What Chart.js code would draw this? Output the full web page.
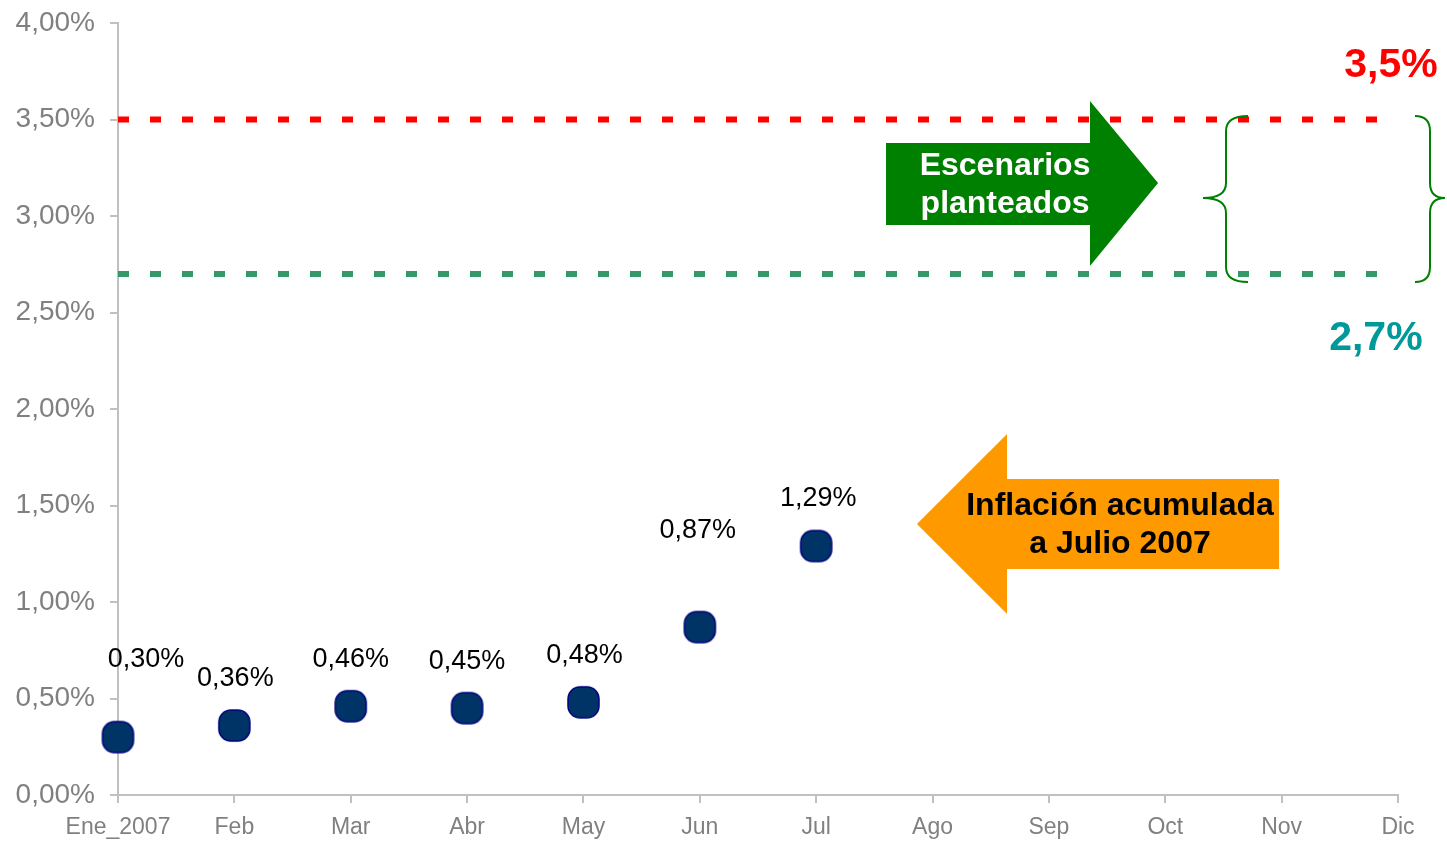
<!DOCTYPE html>
<html lang="es">
<head>
<meta charset="utf-8">
<title>Inflación acumulada 2007</title>
<script src="https://cdn.jsdelivr.net/npm/chart.js@4.4.1/dist/chart.umd.min.js"></script>
<style>
  html, body { margin: 0; padding: 0; background: #fff; }
  #wrap { width: 1447px; height: 841px; position: relative; }
</style>
</head>
<body>
<div id="wrap"><canvas id="chart"></canvas></div>
<script>
// ── Data ──────────────────────────────────────────────────────────────
const meses = ['Ene_2007', 'Feb', 'Mar', 'Abr', 'May', 'Jun', 'Jul', 'Ago', 'Sep', 'Oct', 'Nov', 'Dic'];
const inflacionAcumulada = [0.30, 0.36, 0.46, 0.45, 0.48, 0.87, 1.29];
const escenarioAlto = [3.5, 3.5, 3.5, 3.5, 3.5, 3.5, 3.5, 3.5, 3.5, 3.5, 3.5, 3.5];
const escenarioBajo = [2.7, 2.7, 2.7, 2.7, 2.7, 2.7, 2.7, 2.7, 2.7, 2.7, 2.7, 2.7];
const Y_MIN = 0, Y_MAX = 4, Y_STEP = 0.5;

// label offsets above each point (px) — manual placement like the original
const labelLift = [78, 47, 47, 47, 47, 97, 47];
const labelShift = [28, 1, 0, 0, 1, -2, 2];

const FONT = '"Liberation Sans", Arial, sans-serif';
const fmt = (v, d) => v.toFixed(d).replace('.', ',') + '%';

// rounded-square marker (softer corners than the built-in rectRounded)
function makeMarker(size, radius) {
    const c = document.createElement('canvas');
    c.width = size + 4;
    c.height = size + 4;
    const g = c.getContext('2d');
    g.beginPath();
    g.roundRect(2, 2, size, size, radius);
    g.fillStyle = '#003366';
    g.fill();
    g.lineWidth = 1.5;
    g.strokeStyle = '#000080';
    g.stroke();
    return c;
}
const marker = makeMarker(31, 12);

// ── Decorations: arrows, brace, scenario labels ───────────────────────
const decorPlugin = {
    id: 'decor',
    afterDatasetsDraw(chart) {
        const { ctx, scales: { x, y } } = chart;
        const px = v => x.getPixelForValue(v);
        const py = v => y.getPixelForValue(v);
        ctx.save();

        // green arrow pointing right → "Escenarios planteados"
        ctx.fillStyle = '#008000';
        ctx.beginPath();
        ctx.moveTo(px(6.60), py(3.378));
        ctx.lineTo(px(8.353), py(3.378));
        ctx.lineTo(px(8.353), py(3.596));
        ctx.lineTo(px(8.938), py(3.171));
        ctx.lineTo(px(8.353), py(2.741));
        ctx.lineTo(px(8.353), py(2.953));
        ctx.lineTo(px(6.60), py(2.953));
        ctx.closePath();
        ctx.fill();

        // orange arrow pointing left → "Inflación acumulada a Julio 2007"
        ctx.fillStyle = '#ff9900';
        ctx.beginPath();
        ctx.moveTo(px(6.866), py(1.404));
        ctx.lineTo(px(7.640), py(1.870));
        ctx.lineTo(px(7.640), py(1.637));
        ctx.lineTo(px(9.978), py(1.637));
        ctx.lineTo(px(9.978), py(1.171));
        ctx.lineTo(px(7.640), py(1.171));
        ctx.lineTo(px(7.640), py(0.938));
        ctx.closePath();
        ctx.fill();

        ctx.textAlign = 'center';
        ctx.textBaseline = 'middle';
        ctx.font = 'bold 32px ' + FONT;
        ctx.fillStyle = '#ffffff';
        ctx.fillText('Escenarios', px(7.623), py(3.259));
        ctx.fillText('planteados', px(7.623), py(3.063));
        ctx.fillStyle = '#000000';
        ctx.fillText('Inflación acumulada', px(8.611), py(1.497));
        ctx.fillText('a Julio 2007', px(8.611), py(1.301));

        // braces around the scenario band
        const yt = py(3.518), ym = py(3.093), yb = py(2.658), r = 15;
        const brace = (xe, xv, xt) => {
            ctx.beginPath();
            ctx.moveTo(xe, yt);
            ctx.quadraticCurveTo(xv, yt, xv, yt + r);
            ctx.lineTo(xv, ym - r);
            ctx.quadraticCurveTo(xv, ym, xt, ym);
            ctx.quadraticCurveTo(xv, ym, xv, ym + r);
            ctx.lineTo(xv, yb - r);
            ctx.quadraticCurveTo(xv, yb, xe, yb);
            ctx.stroke();
        };
        ctx.strokeStyle = '#008000';
        ctx.lineWidth = 2;
        brace(px(9.711), px(9.522), px(9.324));
        brace(px(11.146), px(11.275), px(11.404));

        // scenario values
        ctx.font = 'bold 41px ' + FONT;
        ctx.fillStyle = '#ff0000';
        ctx.fillText(fmt(escenarioAlto[0], 1), px(10.94), py(3.777));
        ctx.fillStyle = '#009999';
        ctx.fillText(fmt(escenarioBajo[0], 1), px(10.81), py(2.363));

        // point value labels
        const meta = chart.getDatasetMeta(2);
        ctx.font = '27px ' + FONT;
        ctx.fillStyle = '#000000';
        meta.data.forEach((pt, i) => {
            ctx.fillText(fmt(inflacionAcumulada[i], 2), pt.x + labelShift[i], pt.y - labelLift[i]);
        });

        ctx.restore();
    }
};

const tickColor = '#808080';
const axisColor = '#c0c0c0';

new Chart(document.getElementById('chart'), {
    type: 'line',
    plugins: [decorPlugin],
    data: {
        labels: meses,
        datasets: [
            {
                label: 'Escenario alto',
                data: escenarioAlto,
                borderColor: '#ff0000',
                borderWidth: 6,
                borderDash: [11, 21],
                pointRadius: 0,
                fill: false
            },
            {
                label: 'Escenario bajo',
                data: escenarioBajo,
                borderColor: '#339966',
                borderWidth: 6,
                borderDash: [11, 21],
                pointRadius: 0,
                fill: false
            },
            {
                label: 'Inflación acumulada',
                data: inflacionAcumulada,
                showLine: false,
                pointStyle: marker,
                pointRadius: 17,
                clip: false
            }
        ]
    },
    options: {
        responsive: true,
        maintainAspectRatio: false,
        animation: false,
        layout: { autoPadding: false, padding: { top: 23, right: 49, bottom: 0, left: 0 } },
        plugins: {
            legend: { display: false },
            tooltip: { enabled: false }
        },
        scales: {
            x: {
                offset: false,
                grid: { display: true, drawOnChartArea: false, drawTicks: true, tickLength: 8, color: axisColor, lineWidth: 2 },
                border: { color: axisColor, width: 2 },
                ticks: { color: tickColor, font: { family: FONT, size: 23 }, padding: 11, maxRotation: 0, autoSkip: false },
                afterFit: s => { s.height = 46; s.paddingLeft = 0; s.paddingRight = 0; }
            },
            y: {
                min: Y_MIN,
                max: Y_MAX,
                grid: { display: true, drawOnChartArea: false, drawTicks: true, tickLength: 8, color: axisColor, lineWidth: 2 },
                border: { color: axisColor, width: 2 },
                ticks: {
                    stepSize: Y_STEP,
                    color: tickColor,
                    font: { family: FONT, size: 28 },
                    padding: 15,
                    callback: v => fmt(v, 2)
                },
                afterFit: s => { s.width = 118; s.paddingTop = 0; s.paddingBottom = 0; }
            }
        }
    }
});
</script>
</body>
</html>
